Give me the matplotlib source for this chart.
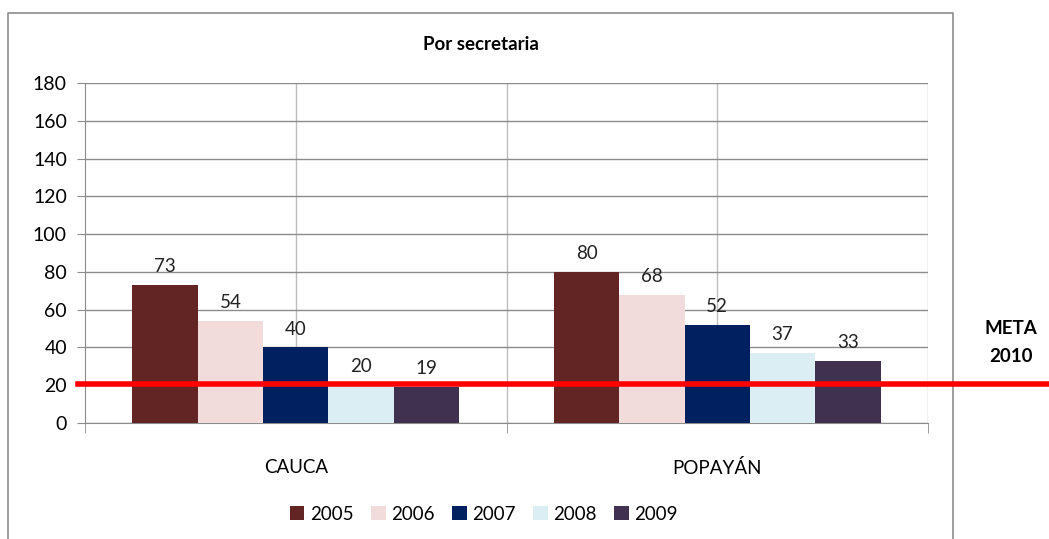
import matplotlib.pyplot as plt
from matplotlib.lines import Line2D
import numpy as np

# data
categories = ['CAUCA', 'POPAYÁN']
years = ['2005', '2006', '2007', '2008', '2009']
values = {
    '2005': [73, 80],
    '2006': [54, 68],
    '2007': [40, 52],
    '2008': [20, 37],
    '2009': [19, 33],
}
meta_value = 21
colors = ['#632523', '#F2DCDB', '#002060', '#DBEEF4', '#403151']

plt.rcParams['font.family'] = ['Lato', 'DejaVu Sans']

W, H = 1049, 539
fig = plt.figure(figsize=(W / 100, H / 100), dpi=100)
# plot area in pixels: left 85, right 928, top 83, bottom 423
ax = fig.add_axes([85 / W, 1 - 423 / H, (928 - 85) / W, (423 - 83) / H])

x = np.arange(len(categories))
bw = 0.155
for i, (yr, c) in enumerate(zip(years, colors)):
    pos = x + (i - 2) * bw
    ax.bar(pos, values[yr], width=bw, color=c, label=yr, zorder=3)
    for p, v in zip(pos, values[yr]):
        ax.annotate(str(v), (p, v), xytext=(0, 7), textcoords='offset points',
                    ha='center', va='bottom', fontsize=13.5, color='#222222')

ax.set_xlim(-0.5, 1.5)
ax.set_ylim(0, 180)
ax.set_yticks(range(0, 181, 20))
ax.set_xticks(x)
ax.set_xticklabels(categories)
ax.set_xticks([-0.5, 0.5, 1.5], minor=True)

# gridlines
ax.grid(axis='y', color='#8C8C8C', linewidth=1.0, zorder=0)
for gx in [0, 0.5, 1, 1.5]:
    ax.axvline(gx, color='#BDBDBD', linewidth=1.0, zorder=1)

for s in ['top', 'right']:
    ax.spines[s].set_visible(False)
ax.spines['left'].set_color('#8C8C8C')
ax.spines['bottom'].set_color('#8C8C8C')
ax.tick_params(axis='y', length=6, color='#8C8C8C', labelsize=14, pad=7)
ax.tick_params(axis='x', which='major', length=0, labelsize=13.5, pad=26)
ax.tick_params(axis='x', which='minor', length=7, color='#8C8C8C')

fig.text(481 / W, 1 - 45 / H, 'Por secretaria', ha='center', va='center',
         fontsize=13.5, fontweight='bold')

leg = fig.legend(loc='center', bbox_to_anchor=(484 / W, 1 - 514 / H), ncol=5,
                 frameon=False, fontsize=13.5, handlelength=0.75, handleheight=0.75,
                 handletextpad=0.3, columnspacing=0.95)

# red "meta" line across the figure
fig.add_artist(Line2D([78 / W, 1.0], [1 - 383.5 / H, 1 - 383.5 / H],
                      color='#FF0000', linewidth=4, zorder=10))
fig.text(1011 / W, 1 - 328 / H, 'META', ha='center', va='center',
         fontsize=13.5, fontweight='bold')
fig.text(1011 / W, 1 - 357 / H, '2010', ha='center', va='center',
         fontsize=13.5, fontweight='bold')

# outer chart frame (left, top, right)
fx0, fx1, fy0 = 8 / W, 953 / W, 1 - 13 / H
fig.add_artist(Line2D([fx0, fx0, fx1, fx1], [0, fy0, fy0, 0],
                      color='#8C8C8C', linewidth=1.2))

fig.savefig('out.png', dpi=100)
